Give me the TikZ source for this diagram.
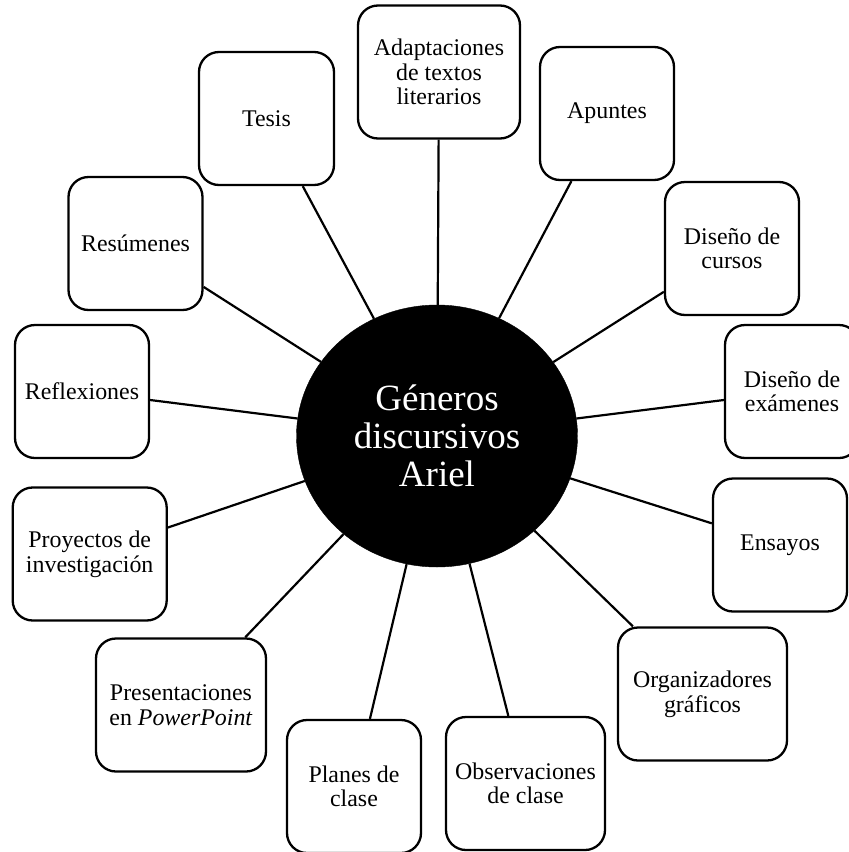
\documentclass[tikz,border=0pt]{standalone}
\usepackage{fontspec}
\setmainfont{Liberation Serif}
\usetikzlibrary{shapes.geometric}
\tikzset{
  genre/.style={draw=black, line width=2.3pt, fill=white, rounded corners=20pt,
    minimum height=133pt, inner sep=0pt, align=center,
    font=\fontsize{23.9}{24.6}\selectfont},
  hub/.style={ellipse, fill=black, draw=black, text=white, inner sep=0pt,
    minimum width=281pt, minimum height=262pt, align=center,
    font=\fontsize{37}{38}\selectfont},
  spoke/.style={draw=black, line width=2.2pt}
}
\begin{document}
\begin{tikzpicture}[x=1pt, y=-1pt]
\useasboundingbox (0,0) rectangle (849,852);
\node[hub] (c) at (437,436) {Géneros\\discursivos\\Ariel};

\node[genre, minimum width=162pt] (adapt) at (439,72) {Adaptaciones\\de textos\\literarios};
\node[genre, minimum width=134pt] (apun) at (607,113.5) {Apuntes};
\node[genre, minimum width=134pt] (dcur) at (732,248.5) {Diseño de\\cursos};
\node[genre, minimum width=134pt] (dexa) at (792,391.5) {Diseño de\\exámenes};
\node[genre, minimum width=134pt] (ensa) at (780,545) {Ensayos};
\node[genre, minimum width=169pt] (orga) at (702.5,694) {Organizadores\\gráficos};
\node[genre, minimum width=159pt] (obse) at (525.5,783.5) {Observaciones\\de clase};
\node[genre, minimum width=134pt] (plan) at (354,786.5) {Planes de\\clase};
\node[genre, minimum width=170pt] (pres) at (181,705) {Presentaciones\\en \textit{PowerPoint}};
\node[genre, minimum width=154pt] (proy) at (89.7,554) {Proyectos de\\investigación};
\node[genre, minimum width=134pt] (refl) at (82,391.5) {Reflexiones};
\node[genre, minimum width=134pt] (resu) at (135.5,243.5) {Resúmenes};
\node[genre, minimum width=135pt] (tesi) at (266.5,118.5) {Tesis};

\foreach \n in {adapt,apun,dcur,dexa,ensa,orga,obse,plan,pres,proy,refl,resu,tesi}
  \draw[spoke] (c) -- (\n);
\end{tikzpicture}
\end{document}
